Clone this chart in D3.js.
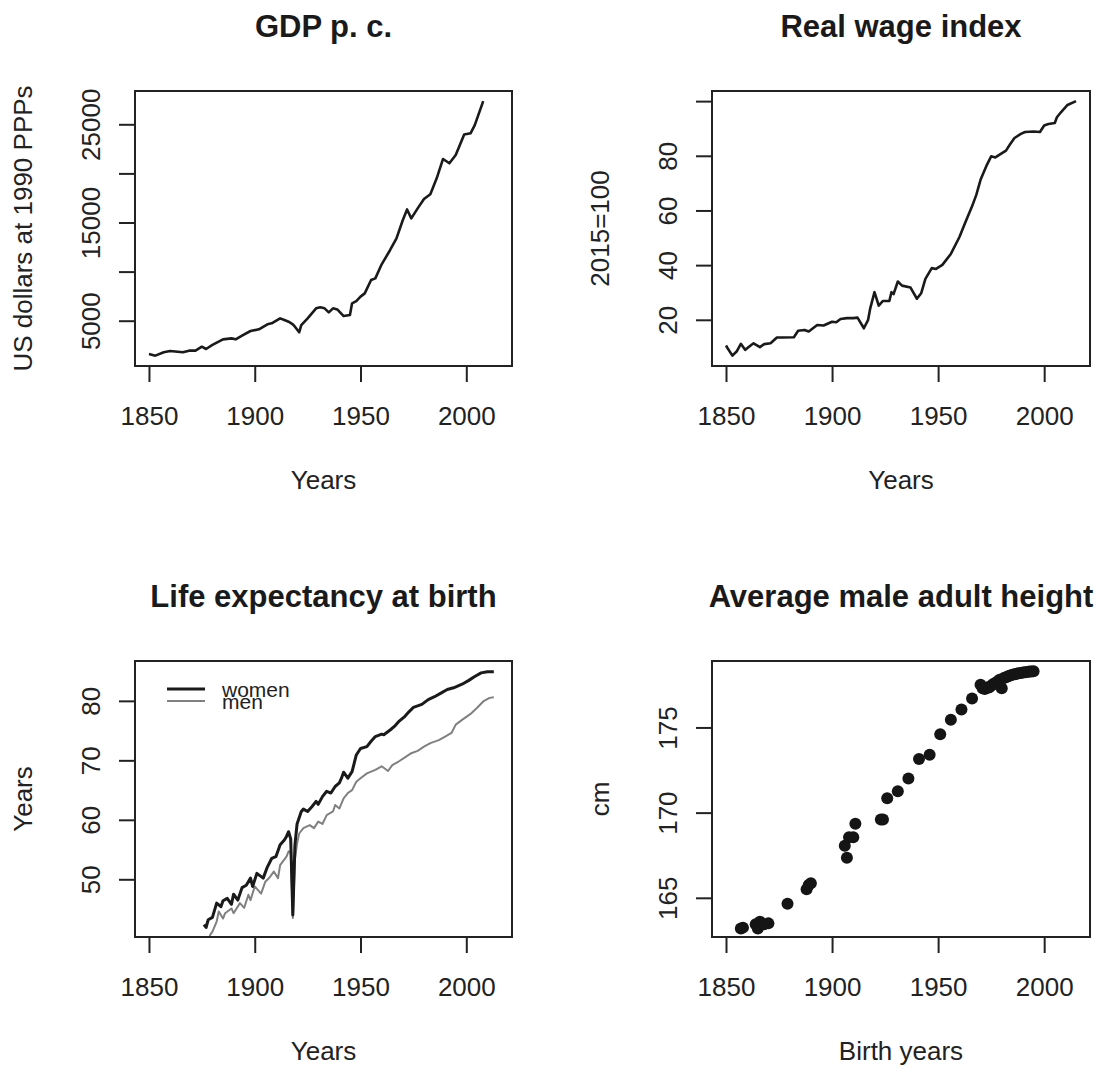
<!DOCTYPE html>
<html lang="en">
<head>
<meta charset="UTF-8">
<title>GDP, wages, life expectancy and height</title>
<script src="https://d3js.org/d3.v7.min.js"></script>
<style>
    body, html {
        margin: 0;
        background: #fff;
    }
    svg {
        display: block;
        font-family: "Liberation Sans", Arial, Helvetica, sans-serif;
    }
</style>
</head>
<body>
<svg width="1105" height="1068"></svg>
<script>
// shared x axis (years)
const xTicks = [1850, 1900, 1950, 2000];

// GDP p. c. (US dollars at 1990 PPPs)
const gdpYears = [1850, 1853, 1857, 1860, 1866, 1869, 1872, 1875, 1877, 1880, 1885, 1889, 1891, 1894, 1898,
    1902, 1906, 1908, 1912, 1914, 1916, 1918, 1919, 1921, 1922, 1925, 1929, 1931, 1933, 1935, 1937, 1939,
    1942, 1945, 1946, 1948, 1950, 1952, 1955, 1957, 1960, 1964, 1967, 1970, 1972, 1974, 1977, 1980, 1983,
    1986, 1989, 1992, 1995, 1999, 2002, 2004, 2008];
const gdpValues = [1610, 1440, 1780, 1910, 1780, 1950, 1950, 2350, 2120, 2530, 3100, 3200, 3100, 3480, 3950,
    4120, 4630, 4730, 5240, 5070, 4900, 4630, 4390, 3820, 4560, 5240, 6260, 6360, 6260, 5850, 6260, 6150,
    5470, 5580, 6770, 7000, 7450, 7780, 9140, 9310, 10740, 12200, 13380, 15250, 16330, 15420, 16440, 17390, 17870,
    19500, 21470, 21030, 21870, 23970, 24080, 24920, 27360];
const gdpTicks = [5000, 10000, 15000, 20000, 25000];
const gdpTickLabels = ["5000", "", "15000", "", "25000"];

// Real wage index (2015=100)
const wageYears = [1850, 1851, 1853, 1855, 1857, 1859, 1861, 1863, 1866, 1868, 1871, 1874, 1877, 1882, 1884,
    1887, 1889, 1893, 1896, 1900, 1902, 1904, 1907, 1910, 1912, 1915, 1917, 1918, 1920, 1922, 1924, 1927,
    1928, 1929, 1931, 1933, 1937, 1940, 1942, 1944, 1947, 1949, 1952, 1956, 1960, 1963, 1966, 1968, 1970,
    1973, 1975, 1977, 1979, 1982, 1984, 1986, 1989, 1991, 1995, 1998, 2000, 2002, 2005, 2006, 2008, 2011, 2015];
const wageValues = [10.6, 9.3, 6.9, 8.4, 11.2, 9.0, 10.2, 11.4, 10.0, 11.1, 11.4, 13.5, 13.5, 13.6, 16.0,
    16.3, 15.7, 18.1, 17.9, 19.3, 19.1, 20.3, 20.6, 20.6, 20.8, 16.9, 20.0, 24.2, 30.1, 25.2, 26.9, 26.9,
    30.1, 29.4, 34.0, 32.5, 31.8, 27.7, 29.7, 35.0, 38.9, 38.6, 40.1, 44.1, 50.2, 56.0, 61.5, 65.7, 71.2,
    76.7, 79.8, 79.4, 80.4, 81.9, 84.3, 86.5, 88.0, 88.7, 88.9, 88.7, 91.1, 91.6, 92.0, 94.1, 96.0, 98.6, 100];
const wageTicks = [20, 40, 60, 80, 100];
const wageTickLabels = ["20", "40", "60", "80", ""];

// Life expectancy at birth (years)
const womenYears = [1876, 1877, 1878, 1880, 1882, 1884, 1885, 1887, 1889, 1890, 1892, 1894, 1896, 1898, 1899,
    1901, 1904, 1906, 1908, 1910, 1912, 1914, 1915, 1916, 1917, 1918, 1919, 1920, 1922, 1923, 1925, 1927,
    1929, 1930, 1932, 1934, 1936, 1938, 1940, 1941, 1942, 1944, 1946, 1948, 1950, 1953, 1955, 1957, 1960,
    1961, 1964, 1966, 1968, 1971, 1973, 1975, 1979, 1982, 1985, 1988, 1991, 1994, 1998, 2001, 2004, 2007,
    2010, 2013];
const womenValues = [42.4, 41.9, 43.2, 43.6, 46.0, 45.4, 46.4, 46.8, 45.8, 47.5, 46.5, 48.6, 49.0, 50.2, 48.8,
    51.0, 50.2, 52.1, 53.5, 53.8, 55.8, 56.6, 57.2, 58.0, 56.8, 44.0, 55.8, 59.3, 61.4, 61.8, 61.4, 62.2,
    63.1, 62.6, 63.9, 64.8, 64.5, 65.6, 66.2, 67.0, 68.0, 67.0, 68.1, 70.9, 72.0, 72.3, 73.2, 74.0, 74.4,
    74.3, 75.1, 75.7, 76.5, 77.4, 78.2, 78.9, 79.4, 80.2, 80.7, 81.3, 81.9, 82.2, 82.8, 83.4, 84.1, 84.7,
    84.9, 84.9];
const menYears = [1878, 1879, 1880, 1882, 1883, 1885, 1886, 1889, 1890, 1893, 1895, 1897, 1898, 1900, 1903,
    1905, 1907, 1909, 1911, 1912, 1915, 1916, 1917, 1918, 1919, 1920, 1921, 1923, 1926, 1928, 1930, 1932,
    1934, 1937, 1938, 1940, 1942, 1944, 1946, 1948, 1950, 1953, 1957, 1960, 1963, 1965, 1968, 1971, 1974,
    1977, 1980, 1983, 1987, 1990, 1993, 1995, 1998, 2002, 2005, 2008, 2011, 2013];
const menValues = [39.5, 40.7, 41.2, 42.9, 44.6, 43.4, 44.3, 45.1, 44.3, 46.0, 45.2, 47.4, 46.5, 48.8, 47.6,
    49.6, 50.3, 51.3, 50.2, 52.4, 53.8, 54.7, 54.5, 43.5, 53.3, 56.0, 57.7, 58.6, 59.1, 58.6, 59.7, 59.3,
    60.8, 61.4, 62.5, 61.9, 63.6, 64.5, 65.0, 66.4, 67.0, 67.8, 68.4, 69.0, 68.2, 69.2, 69.8, 70.5, 71.2,
    71.6, 72.3, 72.9, 73.4, 74.0, 74.6, 76.0, 76.8, 77.8, 78.8, 79.9, 80.5, 80.6];
const lifeTicks = [50, 60, 70, 80];
const lifeTickLabels = ["50", "60", "70", "80"];
const lifeSeries = ["women", "men"];

// Average male adult height (cm) by birth year
const birthYears = [1857, 1858, 1864, 1865, 1866, 1868, 1870, 1879, 1888, 1889, 1890, 1906, 1907, 1908, 1910,
    1911, 1923, 1924, 1926, 1931, 1936, 1941, 1946, 1951, 1956, 1961, 1966, 1970, 1971, 1972, 1973, 1974,
    1975, 1976, 1977, 1978, 1979, 1980, 1981, 1982, 1983, 1984, 1985, 1986, 1987, 1988, 1989, 1990, 1991,
    1992, 1993, 1994, 1995];
const heights = [163.2, 163.25, 163.45, 163.2, 163.6, 163.45, 163.5, 164.65, 165.5, 165.75, 165.85, 168.05, 167.35,
    168.55, 168.55, 169.35, 169.6, 169.6, 170.85, 171.25, 172.0, 173.15, 173.4, 174.6, 175.45, 176.05, 176.7,
    177.5, 177.3, 177.25, 177.35, 177.35, 177.45, 177.55, 177.6, 177.7, 177.8, 177.3, 177.9, 177.95, 178.0,
    178.05, 178.1, 178.12, 178.15, 178.18, 178.2, 178.22, 178.24, 178.25, 178.28, 178.28, 178.3];
const heightTicks = [165, 170, 175];
const heightTickLabels = ["165", "170", "175"];

const svg = d3.select("svg");
const ink = "#222";
const font = '"Liberation Sans", Arial, Helvetica, sans-serif';

// draws the frame, axes and labels of one panel; returns scales and a clipped layer
function drawPanel(box, opts) {
    const x = d3.scaleLinear().domain([1843.4, 2021.6]).range([box.left, box.right]);
    const y = d3.scaleLinear().domain(opts.yDomain).range([box.bottom, box.top]);
    const id = "clip" + opts.id;

    svg.append("clipPath").attr("id", id)
        .append("rect")
        .attr("x", box.left).attr("y", box.top)
        .attr("width", box.right - box.left).attr("height", box.bottom - box.top);

    const layer = svg.append("g").attr("clip-path", "url(#" + id + ")");

    // x axis
    const gx = svg.append("g")
        .attr("transform", "translate(0," + box.bottom + ")")
        .call(d3.axisBottom(x).tickValues(xTicks).tickFormat(d3.format("d"))
            .tickSize(16).tickPadding(25).tickSizeOuter(0));
    gx.select(".domain").remove();
    gx.selectAll("line").attr("stroke", ink).attr("stroke-width", 2);
    gx.selectAll("text").attr("fill", ink);
    gx.attr("font-size", 26).attr("font-family", font);

    // y axis, labels parallel to the axis as in R
    const gy = svg.append("g")
        .attr("transform", "translate(" + box.left + ",0)")
        .call(d3.axisLeft(y).tickValues(opts.yTicks)
            .tickFormat((d, i) => opts.yLabels[i])
            .tickSize(16).tickSizeOuter(0));
    gy.select(".domain").remove();
    gy.selectAll("line").attr("stroke", ink).attr("stroke-width", 2);
    gy.selectAll("text")
        .attr("x", null).attr("dy", null)
        .attr("text-anchor", "middle")
        .attr("transform", "translate(-35,0) rotate(-90)")
        .attr("fill", ink);
    gy.attr("font-size", 26).attr("font-family", font);

    // frame
    svg.append("rect")
        .attr("x", box.left).attr("y", box.top)
        .attr("width", box.right - box.left).attr("height", box.bottom - box.top)
        .attr("fill", "none").attr("stroke", ink).attr("stroke-width", 2);

    const cx = (box.left + box.right) / 2;
    const cy = (box.top + box.bottom) / 2;

    svg.append("text")
        .attr("x", cx).attr("y", box.top - 54)
        .attr("text-anchor", "middle")
        .attr("font-size", 31).attr("font-weight", "bold")
        .attr("fill", "#1a1a1a")
        .text(opts.title);

    svg.append("text")
        .attr("x", cx).attr("y", box.bottom + 123)
        .attr("text-anchor", "middle")
        .attr("font-size", 26).attr("fill", ink)
        .text(opts.xlab);

    svg.append("text")
        .attr("transform", "translate(" + (box.left - 103) + "," + cy + ") rotate(-90)")
        .attr("text-anchor", "middle")
        .attr("font-size", 26).attr("fill", ink)
        .text(opts.ylab);

    return { x, y, layer };
}

// GDP p. c.
(function () {
    const p = drawPanel({ left: 135, top: 91, right: 512, bottom: 366 }, {
        id: 1, title: "GDP p. c.", xlab: "Years", ylab: "US dollars at 1990 PPPs",
        yDomain: [387, 28391], yTicks: gdpTicks, yLabels: gdpTickLabels
    });
    const line = d3.line().x(d => p.x(d[0])).y(d => p.y(d[1]));
    p.layer.append("path")
        .datum(d3.zip(gdpYears, gdpValues))
        .attr("d", line)
        .attr("fill", "none").attr("stroke", "#1a1a1a").attr("stroke-width", 2.6)
        .attr("stroke-linejoin", "round");
})();

// Real wage index
(function () {
    const p = drawPanel({ left: 712, top: 91, right: 1090, bottom: 366 }, {
        id: 2, title: "Real wage index", xlab: "Years", ylab: "2015=100",
        yDomain: [3.1, 103.7], yTicks: wageTicks, yLabels: wageTickLabels
    });
    const line = d3.line().x(d => p.x(d[0])).y(d => p.y(d[1]));
    p.layer.append("path")
        .datum(d3.zip(wageYears, wageValues))
        .attr("d", line)
        .attr("fill", "none").attr("stroke", "#1a1a1a").attr("stroke-width", 2.6)
        .attr("stroke-linejoin", "round");
})();

// Life expectancy at birth
(function () {
    const box = { left: 135, top: 661, right: 512, bottom: 937 };
    const p = drawPanel(box, {
        id: 3, title: "Life expectancy at birth", xlab: "Years", ylab: "Years",
        yDomain: [40.3, 86.7], yTicks: lifeTicks, yLabels: lifeTickLabels
    });
    const color = d3.scaleOrdinal().domain(lifeSeries).range(["#1a1a1a", "#808080"]);
    const width = d3.scaleOrdinal().domain(lifeSeries).range([3, 2]);
    const line = d3.line().x(d => p.x(d[0])).y(d => p.y(d[1]));
    const series = [
        { key: "men", values: d3.zip(menYears, menValues) },
        { key: "women", values: d3.zip(womenYears, womenValues) }
    ];
    p.layer.selectAll("path.life")
        .data(series)
        .enter().append("path")
        .attr("class", "life")
        .attr("d", d => line(d.values))
        .attr("fill", "none")
        .attr("stroke", d => color(d.key))
        .attr("stroke-width", d => width(d.key))
        .attr("stroke-linejoin", "round");

    // legend (no frame), entries squeezed together like the original
    const lg = svg.append("g").attr("font-family", font);
    lifeSeries.forEach((k, i) => {
        const ly = box.top + 28 + i * 12;
        lg.append("line")
            .attr("x1", box.left + 32).attr("x2", box.left + 70)
            .attr("y1", ly).attr("y2", ly)
            .attr("stroke", color(k)).attr("stroke-width", width(k));
        lg.append("text")
            .attr("x", box.left + 87).attr("y", ly + 8)
            .attr("font-size", 21).attr("fill", ink)
            .text(k);
    });
})();

// Average male adult height
(function () {
    const p = drawPanel({ left: 712, top: 661, right: 1090, bottom: 937 }, {
        id: 4, title: "Average male adult height", xlab: "Birth years", ylab: "cm",
        yDomain: [162.7, 178.9], yTicks: heightTicks, yLabels: heightTickLabels
    });
    p.layer.selectAll("circle")
        .data(d3.zip(birthYears, heights))
        .enter().append("circle")
        .attr("cx", d => p.x(d[0]))
        .attr("cy", d => p.y(d[1]))
        .attr("r", 6)
        .attr("fill", "#151515");
})();
</script>
</body>
</html>
